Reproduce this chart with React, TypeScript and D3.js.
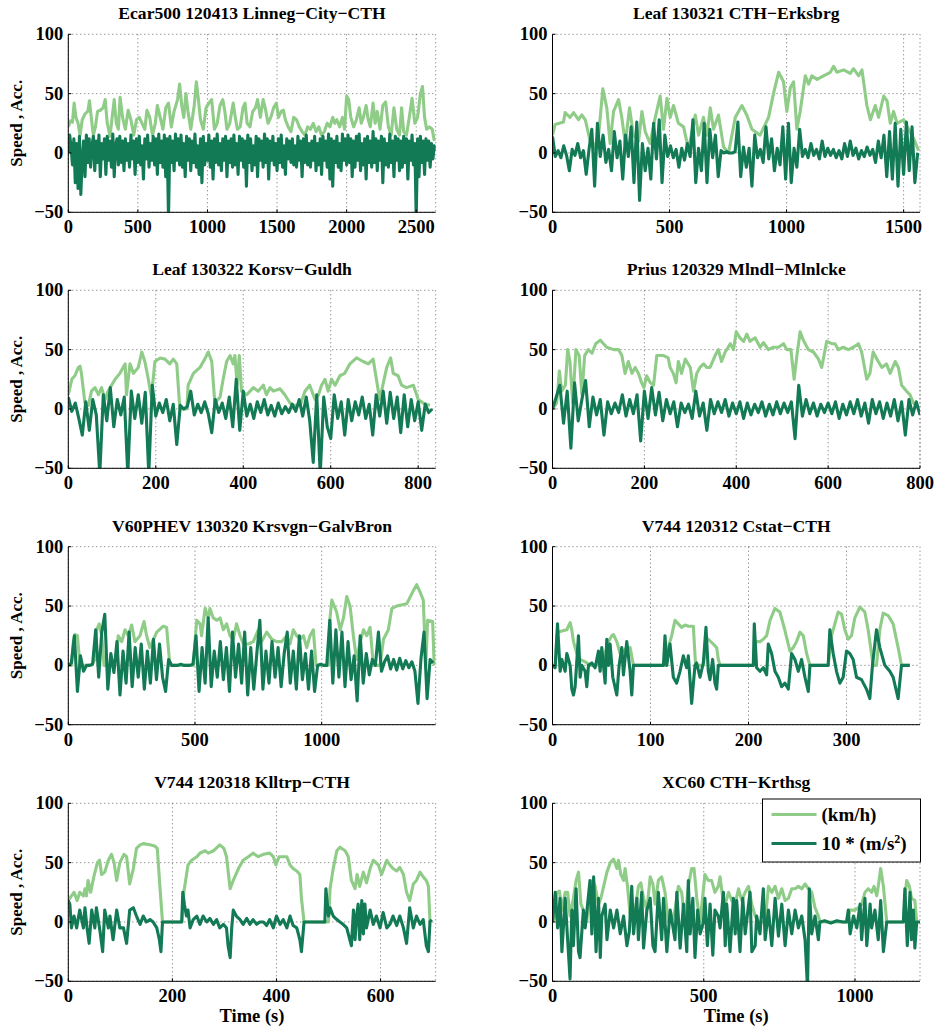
import React from 'react';
import * as d3 from 'd3';

type P = [number, number];

const SPEED_COLOR = '#8fcc88';
const ACC_COLOR = '#137a56';
const FONT = "'Liberation Serif', 'Times New Roman', Times, serif";

const yTicks = [-50, 0, 50, 100];
const seriesNames = ['(km/h)', '10 * (m/s'];

// ---------- Panel 1 ----------
const title1 = 'Ecar500 120413 Linneg\u2212City\u2212CTH';
const xMax1 = 2640;
const xTicks1 = [0, 500, 1000, 1500, 2000, 2500];
const speed1: P[] = [[0,22],[15,27],[30,26],[42,42],[55,30],[70,25],[85,15],[100,28],[120,33],[140,35],[152,44],[165,30],[180,15],[195,22],[210,35],[230,36],[250,38],[265,45],[280,25],[300,14],[315,30],[330,45],[345,25],[360,20],[372,47],[390,30],[410,20],[430,36],[450,28],[470,15],[490,28],[510,30],[530,25],[550,20],[565,36],[585,30],[605,15],[625,25],[640,40],[660,30],[680,20],[700,38],[720,42],[740,22],[760,35],[785,45],[800,58],[815,40],[830,30],[845,50],[860,35],[880,20],[905,40],[920,60],[935,45],[950,28],[970,20],[990,38],[1010,42],[1030,45],[1050,20],[1070,25],[1090,40],[1110,45],[1125,35],[1140,20],[1160,25],[1185,42],[1200,30],[1215,20],[1235,22],[1255,38],[1270,42],[1285,25],[1305,22],[1325,35],[1345,38],[1360,45],[1380,30],[1400,45],[1415,38],[1435,25],[1455,30],[1475,38],[1495,42],[1510,30],[1530,35],[1545,36],[1560,28],[1580,22],[1600,18],[1620,30],[1640,28],[1660,22],[1680,18],[1700,15],[1720,22],[1740,20],[1760,25],[1780,18],[1800,22],[1820,15],[1840,18],[1860,25],[1880,22],[1900,30],[1915,25],[1930,28],[1950,22],[1970,30],[1985,20],[2000,48],[2015,45],[2030,30],[2050,22],[2070,28],[2090,38],[2105,25],[2120,30],[2140,40],[2155,28],[2170,22],[2190,42],[2205,25],[2220,35],[2240,20],[2260,40],[2280,43],[2300,22],[2320,15],[2340,38],[2360,20],[2380,15],[2395,38],[2410,18],[2430,15],[2450,30],[2470,46],[2490,25],[2510,30],[2530,50],[2545,56],[2560,30],[2575,20],[2595,22],[2615,20],[2630,10]];
const accStep1 = 10;
const acc1 = [
  0, 15, 5, -10, 12, -25, 8, -30, 14, -35, -5, 10, -20, 15, -8, 12, -12, 6, 14, -15,
  10, -8, 15, -20, 8, -5, 12, -18, 14, -6, 10, -12, 16, -20, 6, 12, -10, 14, -8, 10,
  -15, 12, -6, 8, -12, 15, -5, 10, -18, 12, -8, 14, -10, 6, -22, 12, -5, 15, -12, 8,
  -6, 14, -10, 12, -18, 16, -8, 10, -12, 15, -20, 12, -55, 14, -8, 10, -15, 16, -6, 12,
  -10, 15, -12, 8, -20, 14, -6, 12, -15, 10, -8, 16, -12, 6, -18, 12, -25, 14, -10, 8,
  -6, 15, -12, 10, -22, 12, -8, 16, -10, 8, -15, 12, -6, 14, -20, 10, -8, 12, -12, 15,
  -10, 8, -18, 14, -6, 12, -12, 10, -28, 15, -8, 12, -15, 6, -10, 14, -20, 12, -6, 10,
  -12, 16, -8, 12, -22, 10, -6, 14, -10, 8, -15, 12, -8, 15, -12, 6, -18, 12, -5, 10,
  -8, 12, -10, 6, -12, 14, -6, 10, -20, 12, -8, 15, -10, 8, -12, 10, -6, 14, -15, 8,
  -10, 12, -18, 14, -6, 10, -12, 16, -22, 12, -28, 10, -8, 14, -12, 8, -15, 16, -6, 12,
  -10, 15, -8, 12, -20, 10, -12, 14, -6, 16, -15, 8, -10, 12, -22, 14, -8, 10, -12, 18,
  -8, 12, -15, 10, -6, 14, -25, 12, -10, 8, -12, 16, -8, 10, -20, 14, -6, 12, -15, 10,
  -12, 14, -8, 12, -22, 10, -6, 15, -10, 8, -55, 12, -20, 14, -8, 10, -18, 12, -6, 10,
  -12, 8, -5, 6, 2,
];

// ---------- Panel 2 ----------
const title2 = 'Leaf 130321 CTH\u2212Erksbrg';
const xMax2 = 1570;
const xTicks2 = [0, 500, 1000, 1500];
const speed2: P[] = [[0,15],[11,24],[47,26],[54,34],[75,30],[90,34],[111,28],[125,32],[140,28],[161,10],[175,3],[197,15],[215,54],[232,38],[246,8],[261,35],[282,45],[296,30],[311,8],[329,38],[346,15],[368,10],[382,35],[396,18],[417,8],[439,30],[460,48],[474,20],[489,46],[503,30],[517,40],[538,25],[560,22],[581,3],[610,32],[624,15],[645,30],[660,15],[674,38],[688,20],[709,32],[731,5],[752,0],[781,30],[809,40],[830,32],[852,20],[887,15],[923,30],[944,50],[966,68],[987,60],[1001,35],[1016,55],[1030,60],[1044,20],[1058,35],[1080,65],[1094,58],[1108,65],[1130,62],[1158,65],[1187,68],[1201,73],[1215,68],[1244,70],[1272,67],[1286,71],[1308,65],[1322,70],[1343,40],[1358,28],[1379,40],[1393,30],[1415,48],[1429,44],[1443,25],[1457,35],[1472,25],[1500,28],[1521,20],[1543,12],[1564,2]];
const accStep2 = 12;
const acc2 = [
  14, -3, 2, -4, 6, -2, -15, 3, -2, 8,
  -4, 2, -18, 3, 20, -28, 25, -3, 15, -8,
  3, -15, 18, -4, 10, -22, 15, -3, 22, -25,
  26, -40, 8, -15, 4, -22, 25, -5, 28, -25,
  15, -3, 6, -4, 3, -12, 4, -6, 8, -3,
  28, -25, 4, -15, 25, -25, 20, -4, 15, -20,
  2, 0, 1, 0, 0, 1, 26, -20, 5, -12,
  4, -28, 15, -4, 3, -8, 22, -5, 12, -15,
  4, -10, 22, -22, 25, -25, 4, -12, 20, -3,
  3, -4, 8, -2, 3, -5, 10, -3, 4, -2,
  3, -4, 2, -5, 8, -3, 10, -2, 4, -5,
  2, -3, 5, -2, 3, -8, 10, -4, 15, -20,
  18, -22, 25, -28, 20, -18, 26, -15, 22, -25,
  0,
];

// ---------- Panel 3 ----------
const title3 = 'Leaf 130322 Korsv\u2212Guldh';
const xMax3 = 840;
const xTicks3 = [0, 200, 400, 600, 800];
const speed3: P[] = [[0,12],[8,25],[15,28],[23,35],[27,36],[30,30],[38,5],[46,3],[53,15],[61,18],[69,12],[76,18],[84,8],[91,15],[107,25],[118,30],[130,38],[133,12],[141,38],[149,30],[160,35],[168,48],[175,40],[183,25],[190,10],[198,40],[210,43],[221,42],[232,38],[240,42],[248,38],[255,0],[271,0],[274,20],[286,30],[301,35],[312,42],[320,48],[328,40],[335,5],[347,10],[354,25],[362,40],[370,45],[377,38],[381,45],[386,20],[391,45],[396,15],[408,12],[423,18],[434,15],[446,20],[453,12],[461,18],[469,15],[484,17],[495,12],[507,5],[514,3],[530,3],[541,15],[552,20],[564,8],[572,12],[579,20],[587,25],[594,15],[602,25],[610,20],[621,28],[632,30],[644,38],[659,43],[674,40],[686,38],[697,42],[712,8],[728,35],[737,43],[743,30],[754,28],[762,20],[773,18],[789,20],[800,8],[811,5],[827,3]];
const accStep3 = 8;
const acc3 = [
  10, -2, 5, -8, -22, 6, -18, 8, -5, -55,
  12, -10, 18, -15, 8, -5, 10, -55, 15, -8,
  12, -12, 14, -55, 20, -6, 5, -3, 8, -10,
  4, -30, 3, 0, 2, 15, -5, 4, -3, 6,
  -4, -20, 8, -3, 5, -8, 10, -15, 25, -18,
  15, -6, 4, -8, 6, -3, 8, -5, 3, -6,
  5, -4, 2, -3, 4, -2, 8, -6, 10, -10,
  -45, 12, -55, 10, -15, -25, 12, -8, 6, -22,
  8, -10, 6, -5, 10, -8, 4, -22, 12, -6,
  15, -12, 14, -8, 10, -20, 12, -15, 8, -10,
  6, -18, 4, -3, 0,
];

// ---------- Panel 4 ----------
const title4 = 'Prius 120329 Mlndl\u2212Mlnlcke';
const xMax4 = 800;
const xTicks4 = [0, 200, 400, 600, 800];
const speed4: P[] = [[0,0],[9,5],[15,32],[20,15],[28,20],[33,50],[38,40],[44,5],[51,50],[58,45],[64,12],[70,45],[78,50],[86,47],[94,55],[104,58],[111,55],[118,52],[133,50],[144,50],[151,45],[158,30],[165,40],[173,30],[180,35],[187,30],[194,22],[199,18],[205,28],[213,22],[220,20],[227,45],[242,45],[252,43],[256,35],[263,30],[269,22],[274,40],[281,30],[289,42],[300,35],[307,15],[314,30],[321,35],[329,38],[336,35],[343,35],[354,45],[361,50],[368,40],[376,48],[387,55],[394,50],[400,65],[408,60],[416,57],[423,63],[430,57],[441,60],[452,52],[459,56],[470,50],[481,52],[492,52],[503,55],[510,50],[519,50],[526,25],[532,45],[539,65],[546,58],[557,50],[568,48],[579,42],[586,35],[597,57],[608,55],[615,55],[622,50],[633,52],[644,50],[655,52],[666,55],[673,48],[684,25],[691,30],[698,48],[709,40],[717,35],[727,38],[735,30],[746,40],[753,35],[760,20],[771,15],[778,12],[786,5],[793,2]];
const accStep4 = 8;
const acc4 = [
  0, 10, 20, -12, 15, -33, 22, -10, 8, 24,
  -15, 10, -5, 8, -22, 6, -4, 5, -3, 12,
  -6, 8, -4, 12, -27, 15, -8, 18, -5, 14,
  -10, 8, -4, 6, -15, 5, -3, 4, -8, 15,
  -6, 5, -18, 8, -4, 6, -3, 8, -6, 5,
  -4, 6, -8, 5, -5, 4, -3, 6, -6, 4,
  -5, 6, -4, 5, -3, 6, -25, 20, -6, 8,
  -4, 5, -6, 4, -3, 5, -4, 6, -8, 4,
  -5, 6, -4, 8, -6, 5, -12, 8, -4, 6,
  -8, 5, -6, 8, -10, 6, -22, 8, -5, 6,
  -5,
];

// ---------- Panel 5 ----------
const title5 = 'V60PHEV 130320 Krsvgn\u2212GalvBron';
const xMax5 = 1450;
const xTicks5 = [0, 500, 1000];
const speed5: P[] = [[0,0],[13,0],[20,20],[26,26],[36,25],[46,0],[92,0],[105,5],[112,30],[122,35],[132,25],[141,0],[165,0],[190,5],[197,25],[211,20],[224,30],[237,25],[250,34],[263,20],[283,25],[299,37],[309,25],[322,15],[349,28],[375,33],[388,32],[401,0],[494,0],[500,20],[507,38],[520,35],[526,25],[540,48],[553,40],[559,48],[572,40],[586,38],[599,40],[612,30],[625,35],[638,25],[651,22],[664,35],[678,25],[691,18],[711,18],[730,20],[750,30],[763,20],[783,28],[803,22],[822,20],[842,20],[862,25],[875,18],[888,30],[901,25],[915,22],[928,25],[941,15],[954,25],[967,30],[978,0],[1026,0],[1033,40],[1040,55],[1059,45],[1073,30],[1086,40],[1099,58],[1112,50],[1125,25],[1138,5],[1152,20],[1165,30],[1178,25],[1191,32],[1204,0],[1230,0],[1244,22],[1263,30],[1277,48],[1296,50],[1336,52],[1362,63],[1375,68],[1388,62],[1401,55],[1411,0],[1418,38],[1438,37],[1444,0]];
const accStep5 = 12;
const acc5 = [
  0, 2, 25, -22, 8, -5, 0, 0, 1, 30,
  -10, 28, 43, -20, 10, -6, 20, -25, 12, -15,
  28, -18, 15, -10, 18, -20, 12, -15, 22, -12,
  18, -10, -22, 5, 0, 0, 0, 1, 0, 0,
  0, 1, 25, -22, 15, -15, 40, -18, 12, -10,
  20, -12, 15, -22, 28, -10, 18, -15, 28, -25,
  15, -20, 10, 38, -20, 12, -15, 20, -10, 15,
  -18, 10, 28, -15, 12, -20, 25, -12, 10, -20,
  12, -22, 0, 1, 0, 0, 38, -15, 30, -10,
  28, -18, 20, -12, 8, -30, 25, -15, 10, -8,
  5, 0, 28, -5, 3, 8, -3, 5, -4, 6,
  -3, 4, -2, 3, -5, -32, 6, 28, -28, 5,
  2,
];

// ---------- Panel 6 ----------
const title6 = 'V744 120312 Cstat\u2212CTH';
const xMax6 = 375;
const xTicks6 = [0, 100, 200, 300];
const speed6: P[] = [[0,0],[3,0],[4.5,25],[6,28],[9.5,29],[14.6,30],[18,36],[19.7,30],[21.4,20],[24.8,10],[28.2,5],[33.3,3],[38.4,0],[45,0],[52,5],[57,20],[60.5,25],[62.2,26],[65.6,20],[69,10],[72.4,12],[75.8,15],[79.2,15],[82.6,0],[116.5,0],[118.2,15],[121.6,25],[125,38],[128.4,35],[131.8,32],[135.2,34],[138.6,33],[143.7,33],[146,0],[154,0],[157,20],[159,22],[164,18],[167.5,15],[169.2,5],[171,0],[205,0],[206.6,20],[211.7,20],[215,22],[218.5,25],[222,38],[227,48],[232,45],[237,30],[242.3,12],[245.7,15],[249,20],[252.5,28],[255.9,25],[259.3,10],[262.7,0],[281.3,0],[284.7,25],[288.1,35],[291.5,45],[295,43],[298.3,30],[301.7,22],[305.1,25],[308.5,40],[313.6,49],[318.7,45],[322.1,30],[325.5,10],[327.2,0],[330.6,0],[334,30],[337.4,44],[342.5,42],[347.6,35],[352.7,15],[356.1,0],[364.6,0]];
const acc6: P[] = [[0,0],[2.7,-2],[5.1,35],[7.8,-5],[9.5,5],[12.9,-5],[14.6,10],[18,0],[19.7,-20],[21.4,-25],[23.1,-18],[26.5,25],[28.2,-10],[29.9,0],[33.3,-5],[35,-18],[36.7,0],[40.1,2],[43.5,-2],[46.9,12],[48.6,-5],[50.3,15],[53.7,-15],[55.4,22],[57.1,0],[58.8,18],[61.5,-10],[65.6,-25],[68,0],[70.7,15],[72.4,-8],[75.8,20],[79.2,-5],[80.9,-25],[82.6,0],[113.2,0],[114.8,25],[116.5,0],[119.9,18],[123.3,-10],[126.7,-15],[130.1,-5],[133.5,8],[136.9,-2],[138.6,8],[142,-32],[145.4,0],[147.1,2],[150.5,-10],[153.9,2],[156.6,32],[159,-5],[160.7,-12],[163.4,5],[165.8,-15],[167.5,-20],[169.2,0],[204.9,0],[205.9,35],[208.3,-2],[211.7,-5],[215.1,-2],[218.5,-8],[220.2,18],[223.6,10],[227,-5],[230.4,-10],[233.8,-18],[237.2,-15],[240.6,-20],[244,10],[247.4,5],[250.8,-5],[254.2,5],[257.6,-10],[261,-22],[262.7,0],[281.3,0],[283,30],[286.4,10],[289.8,-5],[293.2,-15],[296.6,-10],[300,12],[303.4,10],[306.8,5],[310.2,-10],[315.3,-12],[320.4,-20],[323.8,-28],[326.5,0],[330.6,30],[334,15],[339.1,0],[344.2,-5],[347.6,-10],[352.7,-28],[356.1,0],[364.6,0]];

// ---------- Panel 7 ----------
const title7 = 'V744 120318 Klltrp\u2212CTH';
const xMax7 = 706;
const xTicks7 = [0, 200, 400, 600];
const speed7: P[] = [[0,18],[6,22],[11,25],[17,18],[22,25],[29,22],[32,28],[35,22],[38,35],[43,25],[49,38],[56,50],[60,52],[64,40],[70,42],[77,52],[83,57],[88,50],[93,35],[99,50],[107,57],[112,55],[118,32],[125,45],[131,62],[138,65],[144,66],[157,65],[166,64],[171,62],[176,30],[181,0],[218,0],[222,25],[230,48],[237,52],[247,55],[253,58],[263,60],[269,58],[279,60],[291,65],[299,62],[304,55],[311,28],[317,35],[327,45],[336,52],[346,55],[355,58],[365,55],[375,57],[387,58],[394,55],[399,48],[405,55],[413,55],[420,55],[426,48],[432,45],[439,43],[445,40],[448,20],[453,0],[500,0],[503,28],[509,45],[516,60],[522,63],[532,60],[538,55],[544,35],[551,28],[555,40],[560,30],[567,42],[573,33],[580,45],[586,52],[596,48],[602,40],[612,52],[618,48],[624,45],[631,43],[637,46],[644,40],[650,25],[656,18],[663,32],[669,35],[676,42],[682,38],[688,35],[692,30],[695,0]];
const acc7: P[] = [[0,18],[3,15],[6,-5],[11,5],[16,-5],[22,10],[29,-5],[32,12],[36,-5],[40,-18],[45,10],[51,-5],[54,12],[61,-8],[66,-25],[70,10],[77,-5],[80,5],[86,-15],[93,10],[99,-5],[106,-5],[112,-18],[118,10],[125,12],[131,5],[138,-2],[144,5],[150,0],[157,2],[163,0],[170,-5],[175,-15],[178,-25],[181,0],[218,0],[220,25],[223,15],[227,5],[230,10],[234,-5],[240,2],[247,5],[253,-2],[259,5],[266,0],[272,3],[279,-2],[285,2],[291,-5],[298,-2],[304,-5],[307,-20],[311,-30],[314,-5],[317,10],[323,5],[330,2],[336,-2],[343,3],[349,-2],[355,2],[362,-2],[368,0],[375,0],[381,-3],[387,2],[394,-5],[400,5],[407,-2],[413,2],[420,-5],[426,5],[432,-3],[439,-5],[445,-15],[448,-25],[453,0],[493,0],[495,28],[500,5],[503,12],[509,5],[516,2],[522,0],[528,-2],[535,-5],[541,-15],[544,-20],[548,10],[551,-15],[554,5],[557,15],[560,-15],[564,18],[567,-10],[570,15],[573,-5],[580,10],[586,-2],[592,5],[599,-5],[605,8],[612,-5],[618,-2],[624,5],[631,-3],[637,5],[644,-5],[650,-18],[656,12],[663,-5],[669,5],[676,-2],[682,2],[688,-20],[692,-25],[695,0],[698,2]];

// ---------- Panel 8 ----------
const title8 = 'XC60 CTH\u2212Krthsg';
const xMax8 = 1215;
const xTicks8 = [0, 500, 1000];
const speed8: P[] = [[0,0],[9,5],[14,25],[23,26],[31,10],[42,25],[50,25],[58,5],[69,20],[78,35],[86,42],[94,15],[102,10],[113,0],[124,25],[133,35],[141,30],[152,15],[160,20],[169,30],[180,42],[191,50],[202,53],[213,45],[218,52],[226,40],[235,35],[240,45],[248,30],[257,5],[268,0],[284,30],[292,33],[301,20],[312,10],[323,38],[332,32],[339,15],[350,35],[361,38],[372,25],[383,0],[394,0],[405,10],[416,30],[427,25],[438,0],[449,30],[460,45],[468,45],[477,20],[488,0],[504,40],[515,35],[526,35],[537,25],[548,30],[554,38],[563,20],[571,15],[582,25],[593,18],[604,15],[615,28],[626,18],[637,25],[648,30],[659,15],[670,5],[681,0],[703,0],[714,30],[725,25],[736,30],[747,20],[758,28],[769,18],[780,20],[791,28],[802,28],[813,30],[824,28],[835,32],[846,28],[857,25],[868,12],[879,5],[884,0],[972,0],[984,10],[1000,10],[1011,12],[1022,15],[1033,25],[1044,28],[1055,25],[1063,30],[1072,22],[1077,30],[1085,45],[1094,30],[1105,0],[1160,0],[1165,20],[1171,35],[1180,30],[1187,20],[1198,18],[1204,0]];
const acc8: P[] = [[0,0],[9,25],[17,-5],[25,20],[31,-25],[42,20],[50,-15],[58,-48],[64,10],[69,-20],[78,28],[86,-25],[91,-30],[102,10],[108,-5],[124,35],[130,-10],[136,38],[144,-25],[152,20],[158,-30],[163,5],[174,15],[180,-15],[191,10],[202,-5],[213,10],[224,-10],[235,5],[246,-20],[254,-8],[262,30],[268,-10],[279,20],[284,-15],[295,25],[301,-22],[312,10],[323,20],[332,-20],[339,-25],[350,25],[361,-15],[367,20],[378,-25],[389,10],[405,-15],[411,25],[422,-22],[433,15],[444,-25],[449,35],[455,-10],[464,20],[471,-30],[480,10],[488,-10],[499,0],[504,20],[512,-20],[521,15],[530,-28],[537,10],[548,5],[554,-5],[565,25],[571,-20],[576,15],[587,-25],[598,20],[604,-10],[609,18],[620,-25],[629,20],[637,-10],[653,25],[659,-25],[670,-20],[675,5],[686,-10],[697,28],[703,-15],[714,10],[725,-20],[736,20],[747,-12],[758,15],[769,-20],[780,10],[791,-10],[802,10],[813,-5],[824,5],[835,-15],[843,-55],[849,28],[857,-10],[868,5],[879,-15],[884,0],[900,1],[920,-1],[940,1],[960,0],[972,0],[978,10],[984,-10],[995,5],[1006,-5],[1017,15],[1022,-15],[1033,20],[1039,-20],[1050,15],[1055,-5],[1066,10],[1077,-15],[1085,18],[1094,-25],[1105,0],[1160,0],[1165,28],[1173,-20],[1182,25],[1187,-15],[1193,10],[1198,-22],[1204,0],[1215,0]];

const uniform = (vals: number[], step: number): P[] => vals.map((v, i) => [i * step, v]);

interface PanelDef {
  title: string;
  xMax: number;
  xTicks: number[];
  speed: P[];
  acc: P[];
}

const panels: PanelDef[] = [
  { title: title1, xMax: xMax1, xTicks: xTicks1, speed: speed1, acc: uniform(acc1, accStep1) },
  { title: title2, xMax: xMax2, xTicks: xTicks2, speed: speed2, acc: uniform(acc2, accStep2) },
  { title: title3, xMax: xMax3, xTicks: xTicks3, speed: speed3, acc: uniform(acc3, accStep3) },
  { title: title4, xMax: xMax4, xTicks: xTicks4, speed: speed4, acc: uniform(acc4, accStep4) },
  { title: title5, xMax: xMax5, xTicks: xTicks5, speed: speed5, acc: uniform(acc5, accStep5) },
  { title: title6, xMax: xMax6, xTicks: xTicks6, speed: speed6, acc: acc6 },
  { title: title7, xMax: xMax7, xTicks: xTicks7, speed: speed7, acc: acc7 },
  { title: title8, xMax: xMax8, xTicks: xTicks8, speed: speed8, acc: acc8 },
];

const colLeft = [68.3, 552.5];
const colRight = [435.7, 920];
const rowTop = [34.3, 290.3, 546.7, 803.3];
const plotH = 178;
const LW = 3.1;

const fmt = (v: number) => (v < 0 ? '\u2212' + Math.abs(v) : String(v));

function Panel({ p, idx }: { p: PanelDef; idx: number }) {
  const col = idx % 2;
  const row = Math.floor(idx / 2);
  const left = colLeft[col];
  const right = colRight[col];
  const top = rowTop[row];
  const bottom = top + plotH;
  const x = d3.scaleLinear().domain([0, p.xMax]).range([left, right]);
  const y = d3.scaleLinear().domain([-50, 100]).range([bottom, top]);
  const line = d3
    .line<P>()
    .x((d) => x(d[0]))
    .y((d) => y(d[1]));
  const clipId = `clip${idx}`;
  const cx = (left + right) / 2;
  return (
    <g>
      <defs>
        <clipPath id={clipId}>
          <rect x={left} y={top} width={right - left} height={plotH} />
        </clipPath>
      </defs>
      {yTicks.map((t) => (
        <line key={'gy' + t} x1={left} x2={right} y1={y(t)} y2={y(t)} stroke="#444" strokeWidth={0.8} strokeDasharray="1,3" />
      ))}
      {p.xTicks.map((t) => (
        <line key={'gx' + t} x1={x(t)} x2={x(t)} y1={top} y2={bottom} stroke="#444" strokeWidth={0.8} strokeDasharray="1,3" />
      ))}
      <line x1={right} x2={right} y1={top} y2={bottom} stroke="#444" strokeWidth={0.8} strokeDasharray="1,3" />
      <g clipPath={`url(#${clipId})`}>
        <path d={line(p.speed) || ''} fill="none" stroke={SPEED_COLOR} strokeWidth={LW} strokeLinejoin="round" />
        <path d={line(p.acc) || ''} fill="none" stroke={ACC_COLOR} strokeWidth={LW} strokeLinejoin="round" />
      </g>
      <line x1={left} x2={left} y1={top} y2={bottom} stroke="#000" strokeWidth={1} />
      <line x1={left} x2={right} y1={bottom} y2={bottom} stroke="#000" strokeWidth={1} />
      {yTicks.map((t) => (
        <g key={'ty' + t}>
          <line x1={left} x2={left + 3} y1={y(t)} y2={y(t)} stroke="#000" />
          <text x={left - 5} y={y(t) + 6} textAnchor="end" fontSize={18.5} fontWeight="bold" fontFamily={FONT}>
            {fmt(t)}
          </text>
        </g>
      ))}
      {p.xTicks.map((t) => (
        <g key={'tx' + t}>
          <line x1={x(t)} x2={x(t)} y1={bottom} y2={bottom - 3} stroke="#000" />
          <text x={x(t)} y={bottom + 21} textAnchor="middle" fontSize={18.5} fontWeight="bold" fontFamily={FONT}>
            {fmt(t)}
          </text>
        </g>
      ))}
      <text x={cx} y={top - 15} textAnchor="middle" fontSize={17.6} fontWeight="bold" fontFamily={FONT}>
        {p.title}
      </text>
      {col === 0 && (
        <text
          transform={`translate(${left - 46},${(top + bottom) / 2}) rotate(-90)`}
          textAnchor="middle"
          fontSize={17}
          fontWeight="bold"
          fontFamily={FONT}
        >
          Speed , Acc.
        </text>
      )}
      {row === 3 && (
        <text x={cx} y={bottom + 41} textAnchor="middle" fontSize={18.5} fontWeight="bold" fontFamily={FONT}>
          Time (s)
        </text>
      )}
    </g>
  );
}

function Legend() {
  const lx = 762.5;
  const ly = 799;
  return (
    <g>
      <rect x={lx} y={ly} width={158} height={63} fill="#fff" stroke="#000" strokeWidth={1} />
      <line x1={lx + 9} x2={lx + 54} y1={ly + 15.5} y2={ly + 15.5} stroke={SPEED_COLOR} strokeWidth={LW} />
      <line x1={lx + 9} x2={lx + 54} y1={ly + 44.5} y2={ly + 44.5} stroke={ACC_COLOR} strokeWidth={LW} />
      <text x={lx + 59} y={ly + 22} fontSize={19} fontWeight="bold" fontFamily={FONT}>
        {seriesNames[0]}
      </text>
      <text x={lx + 59} y={ly + 51} fontSize={19} fontWeight="bold" fontFamily={FONT}>
        {seriesNames[1]}
        <tspan dy={-7} fontSize={12}>2</tspan>
        <tspan dy={7}>)</tspan>
      </text>
    </g>
  );
}

export default function App() {
  return (
    <svg
      width={939}
      height={1029}
      viewBox="0 0 939 1029"
      style={{ position: 'absolute', left: 0, top: 0, background: '#fff' }}
    >
      <rect x={0} y={0} width={939} height={1029} fill="#fff" />
      {panels.map((p, i) => (
        <Panel key={i} p={p} idx={i} />
      ))}
      <Legend />
    </svg>
  );
}
